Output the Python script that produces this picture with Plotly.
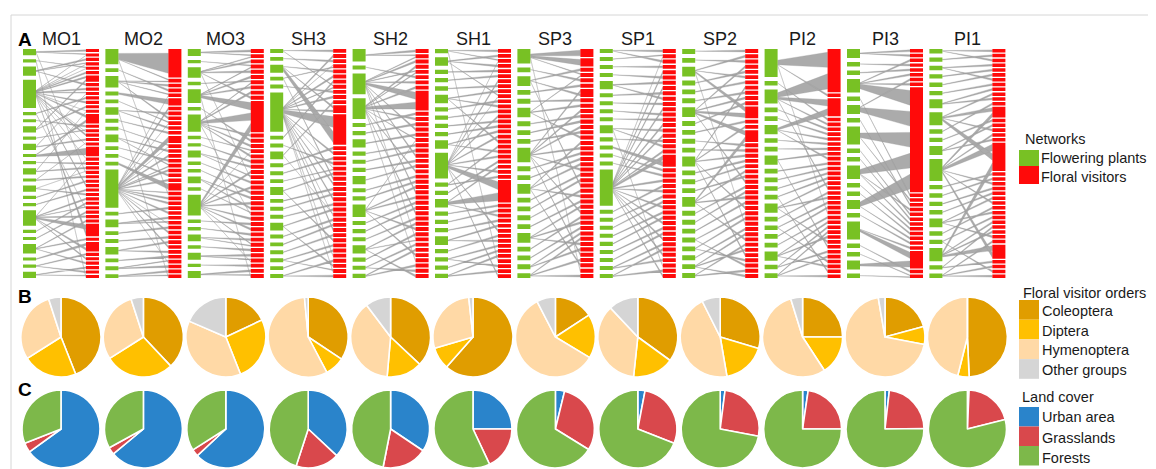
import plotly.graph_objects as go

# ---------------- data ----------------
SITES = ["MO1", "MO2", "MO3", "SH3", "SH2", "SH1", "SP3", "SP1", "SP2", "PI2", "PI3", "PI1"]

# Panel B: floral visitor orders (% of visitors)
ORDERS = ["Coleoptera", "Diptera", "Hymenoptera", "Other groups"]
coleoptera = [44, 38, 18, 34.5, 37, 61.5, 15.8, 35, 29.6, 25, 20.8, 49.3]
diptera = [22, 28, 26, 8, 14.4, 9, 17.8, 16.7, 17.7, 15.8, 7.2, 4.6]
hymenoptera = [29, 29, 37.5, 56.5, 38.3, 27.8, 58.8, 36.3, 45.3, 54.4, 69.3, 46.1]
other_groups = [5, 5, 18.5, 1.5, 10.3, 1.7, 7.6, 12, 7.4, 4.8, 2.7, 0]

# Panel C: land cover (%)
COVERS = ["Urban area", "Grasslands", "Forests"]
urban = [65, 64, 63, 37, 34.4, 25, 3.8, 3, 2, 2.3, 1.8, 0.7]
grasslands = [4, 3, 3, 18, 18.7, 18, 30, 28, 26, 22.7, 23, 20.4]
forests = [31, 33, 34, 45, 46.9, 57, 66.2, 69, 72, 75, 75.2, 78.9]

# Panel A: networks. plants = plant node sizes (top->bottom),
# visitors = visitor node sizes, links = for each visitor, linked plant indices
MO1_plants = [2, 1, 3, 9, 1, 1, 2, 1, 2, 1, 1, 2, 1, 2, 1, 1, 5, 1, 1, 3, 1, 1, 2]
MO1_visitors = [1, 1, 1, 1, 1, 1, 2, 1, 1, 1, 1, 1, 1, 1, 3, 1, 1, 1, 1, 1, 3, 1, 1, 1, 1, 1, 1, 1, 1, 1, 1, 1, 1, 1, 1, 1, 4, 1, 3, 1, 1, 1, 1, 1, 1]
MO1_links = [[0], [0, 3], [2], [2, 3], [1, 3], [3], [3, 6], [2], [3], [3, 8], [4], [3], [6], [3, 11], [3, 9], [5], [7, 3], [3], [8], [12, 3], [9], [3, 16], [10], [11], [13, 0], [12], [14], [3], [15], [13], [16], [17], [16, 4], [18], [16], [19], [16, 3], [19], [20, 16], [21], [16], [19], [22], [21], [22, 1]]

MO2_plants = [4, 1, 3, 1, 1, 2, 1, 1, 2, 1, 1, 1, 10, 1, 2, 1, 1, 2, 1, 1, 1]
MO2_visitors = [8, 1, 1, 1, 1, 2, 1, 1, 1, 1, 1, 1, 2, 1, 1, 1, 1, 1, 1, 1, 1, 2, 1, 1, 1, 1, 1, 1, 1, 1, 1, 1, 1, 1, 1, 1, 1, 1, 1, 1]
MO2_links = [[0], [0, 2], [2], [1], [2, 12], [3], [12], [5], [2], [4, 12], [5], [6], [12], [7, 12], [8], [12], [9], [8, 12], [12], [10], [12], [11], [12, 0], [12], [12], [13], [12], [14], [14, 12], [15], [12], [16], [17], [12], [17], [18], [19, 12], [19], [20], [20, 5]]

MO3_plants = [2, 1, 3, 1, 4, 1, 5, 1, 1, 2, 1, 1, 2, 1, 6, 1, 1, 2, 1, 2, 1, 2]
MO3_visitors = [1, 1, 1, 1, 1, 1, 1, 1, 1, 1, 8, 1, 1, 1, 1, 1, 1, 1, 1, 1, 1, 1, 1, 1, 1, 1, 1, 1, 1, 1, 1, 1, 1, 1, 1, 1, 1, 1, 1]
MO3_links = [[0], [0, 2], [2], [1, 4], [2], [4], [3, 6], [4], [6], [2], [4, 6, 14], [6], [5], [6], [7, 14], [6], [8], [9], [14], [9, 2], [10], [14], [11], [12], [14], [12], [13, 6], [14], [15], [14], [16], [17], [14, 17], [18], [19], [19, 14], [20], [21], [21, 4]]

SH3_plants = [1, 1, 2, 1, 1, 10, 1, 1, 2, 1, 1, 1, 2, 1, 1, 1, 2, 1, 1, 1, 1, 1, 1]
SH3_visitors = [1, 1, 1, 1, 1, 1, 1, 1, 1, 1, 1, 2, 8, 1, 1, 1, 1, 1, 1, 1, 1, 1, 1, 1, 1, 1, 1, 1, 1, 1, 1, 1, 1, 1, 1, 1, 1, 1, 1]
SH3_links = [[0], [5], [1], [5, 3], [2], [5], [6], [0, 5], [4], [5], [8], [2, 5], [5, 2], [9], [5], [10], [7], [5, 11], [12], [3], [5], [13], [14], [5], [15], [16], [8, 5], [17], [18], [5], [19], [12], [20], [21], [5], [22], [16], [20, 5], [22]]

SH2_plants = [3, 1, 5, 5, 1, 1, 2, 1, 1, 1, 2, 1, 1, 3, 1, 1, 1, 2, 1, 1, 1]
SH2_visitors = [1, 1, 1, 1, 1, 1, 1, 1, 5, 1, 1, 1, 1, 1, 1, 1, 1, 1, 1, 1, 1, 1, 1, 1, 1, 1, 1, 1, 1, 1, 1, 1, 1, 1, 1, 1, 1, 1, 1, 1, 1]
SH2_links = [[0], [0, 2], [2], [3], [2, 3], [1], [2], [3], [2, 3], [4], [3], [5], [2], [6], [3, 13], [7], [8], [2], [9], [10], [3], [11], [12], [13], [2], [13], [14], [15], [3], [16], [17], [13], [18], [2, 17], [19], [20], [13], [3], [20], [19], [17]]

SH1_plants = [1, 2, 1, 1, 1, 2, 1, 1, 1, 1, 2, 6, 1, 1, 2, 1, 1, 1, 2, 1, 1, 1, 1]
SH1_visitors = [1, 1, 1, 1, 1, 1, 1, 1, 1, 1, 1, 1, 1, 1, 1, 1, 1, 1, 1, 1, 1, 1, 1, 1, 1, 1, 6, 1, 1, 1, 1, 1, 1, 1, 1, 1, 1, 1, 1, 1, 1, 1]
SH1_links = [[0], [1], [0, 11], [1], [2], [3], [11], [4], [5], [1, 11], [6], [5], [7], [11], [8], [9], [10], [11], [5], [12], [10], [11], [13], [14], [11], [12], [11, 14], [15], [16], [14], [17], [18], [11], [19], [18], [20], [21], [22], [0], [20], [22], [11]]

SP3_plants = [3, 1, 2, 1, 1, 2, 1, 1, 1, 3, 1, 1, 2, 1, 1, 1, 1, 2, 1, 1, 1, 1]
SP3_visitors = [2, 2, 1, 1, 1, 1, 2, 1, 1, 1, 1, 1, 1, 1, 1, 1, 1, 1, 1, 1, 1, 1, 1, 1, 1, 1, 1, 1, 1, 1, 1, 1, 1, 1, 1, 1, 1, 1, 1, 1, 1]
SP3_links = [[0], [0], [2], [0, 5], [1], [3], [9, 2], [4], [5], [9], [6], [7], [9], [8], [5], [12], [9], [10], [11], [12], [9], [13], [14], [2], [15], [12], [16], [17], [9], [18], [17], [19], [20], [21], [17], [20], [9], [21], [12], [0], [21]]

SP1_plants = [1, 1, 1, 1, 2, 1, 1, 1, 1, 2, 1, 1, 1, 1, 9, 1, 1, 1, 1, 1, 1, 1, 1, 1]
SP1_visitors = [1, 1, 1, 1, 1, 1, 1, 1, 1, 1, 1, 1, 1, 1, 1, 1, 1, 1, 1, 1, 3, 1, 1, 1, 1, 1, 1, 1, 1, 1, 1, 1, 1, 1, 1, 1, 1, 1, 1, 1, 1, 1]
SP1_links = [[0], [1, 14], [0], [2], [14], [3], [4], [14], [5], [4], [6], [14], [7], [8], [14], [9], [14], [10], [9], [14], [14, 11], [12], [13], [14], [15], [14], [16], [17], [14], [18], [19], [14], [20], [21], [14], [22], [23], [14], [22], [9], [23], [14]]

SP2_plants = [1, 1, 2, 1, 1, 1, 2, 1, 1, 1, 1, 2, 1, 1, 1, 2, 1, 1, 1, 1, 1, 1, 1, 1]
SP2_visitors = [1, 1, 1, 1, 1, 1, 1, 1, 1, 1, 1, 3, 1, 1, 3, 1, 1, 1, 1, 1, 1, 1, 1, 1, 1, 1, 1, 1, 1, 1, 1, 1, 1, 1, 1, 1, 1, 1, 1, 1, 1]
SP2_links = [[0], [2], [1], [6], [3], [2], [4], [11], [5], [6], [7], [2, 6], [8], [11], [6, 15], [9], [10], [11], [12], [13], [15], [14], [6], [16], [17], [15], [18], [11], [19], [20], [2], [21], [22], [15], [23], [22], [11], [20], [19], [23], [22]]

PI2_plants = [6, 1, 3, 1, 1, 2, 1, 1, 2, 1, 1, 1, 1, 2, 1, 1, 1, 1, 2, 1, 1]
PI2_visitors = [12, 1, 5, 1, 1, 1, 1, 1, 1, 1, 1, 1, 1, 1, 1, 1, 1, 1, 1, 1, 1, 1, 1, 1, 1, 1, 1, 1, 1, 1, 1, 1, 1, 1, 1, 1]
PI2_links = [[0, 2], [0], [2, 5], [1], [2], [3], [4], [5], [6], [7], [8], [5], [9], [10], [11], [12], [13], [2], [14], [13], [15], [16], [0], [17], [18], [19], [20], [18], [13], [8], [19], [20], [15], [18], [12], [20]]

PI3_plants = [2, 1, 1, 3, 1, 2, 1, 4, 1, 1, 3, 1, 1, 2, 1, 4, 1, 1, 2, 1]
PI3_visitors = [1, 1, 1, 1, 1, 1, 1, 1, 30, 1, 1, 1, 1, 1, 1, 1, 1, 1, 1, 1, 1, 5, 1, 1]
PI3_links = [[0], [0], [3], [1], [2], [3], [5], [3], [3, 5, 7, 10, 13], [4], [7], [6], [10], [8], [9], [10], [11], [12], [13], [14], [15], [15, 18], [16], [17, 19]]

PI1_plants = [1, 1, 1, 1, 1, 1, 2, 3, 1, 1, 2, 5, 1, 1, 1, 1, 2, 1, 1, 3, 1, 1]
PI1_visitors = [1, 1, 1, 1, 1, 1, 1, 1, 1, 1, 1, 1, 3, 1, 1, 1, 1, 1, 8, 1, 1, 1, 1, 1, 1, 1, 1, 1, 1, 1, 1, 1, 1, 1, 4, 1, 1, 1, 1]
PI1_links = [[0], [1], [0], [2], [3], [4], [2], [5], [6], [7], [6], [8], [7, 11], [9], [10], [7], [11], [10], [11, 7, 19], [12], [13], [11], [14], [15], [16], [11], [17], [16], [18], [19], [20], [19], [16], [21], [19, 11], [20], [21], [18], [21]]

NETWORKS = {
    "MO1": (MO1_plants, MO1_visitors, MO1_links),
    "MO2": (MO2_plants, MO2_visitors, MO2_links),
    "MO3": (MO3_plants, MO3_visitors, MO3_links),
    "SH3": (SH3_plants, SH3_visitors, SH3_links),
    "SH2": (SH2_plants, SH2_visitors, SH2_links),
    "SH1": (SH1_plants, SH1_visitors, SH1_links),
    "SP3": (SP3_plants, SP3_visitors, SP3_links),
    "SP1": (SP1_plants, SP1_visitors, SP1_links),
    "SP2": (SP2_plants, SP2_visitors, SP2_links),
    "PI2": (PI2_plants, PI2_visitors, PI2_links),
    "PI3": (PI3_plants, PI3_visitors, PI3_links),
    "PI1": (PI1_plants, PI1_visitors, PI1_links),
}

# ---------------- style / layout ----------------
W, H = 1156, 469          # window size
OFF = 8                   # default page margin of the browser body
FW, FH = W - OFF, H - OFF # figure size so that the figure fits in the window
FONT = "Liberation Sans, Arial, sans-serif"
C_PLANT = "#78C124"
C_VISIT = "#FF0A0A"
C_LINK = "rgba(135,135,135,0.70)"
ORDER_COLORS = ["#E09D00", "#FFC000", "#FFD9A6", "#D5D5D5"]
COVER_COLORS = ["#2A84CB", "#D9484C", "#7DB84A"]

STEP = 82.4
GREEN_X0, NODE_W = 23.0, 13.0
RED_X0 = 86.0
Y_TOP, Y_BOT = 49.0, 278.0
PIE_X0 = 61.0
PIE_B_Y, PIE_B_R = 337.0, 40.0
PIE_C_Y, PIE_C_R = 429.0, 39.0


def column(sizes, gap):
    n = len(sizes)
    tot = float(sum(sizes))
    span = Y_BOT - Y_TOP
    unit = (span - gap * (n - 1)) / tot
    if unit < 1.2:
        gap = max(0.6, (span - 1.2 * tot) / max(n - 1, 1))
        unit = (span - gap * (n - 1)) / tot
    out, y = [], Y_TOP
    for s in sizes:
        out.append((y, y + s * unit))
        y += s * unit + gap
    return out


def rects(x0, x1, segs):
    xs, ys = [], []
    for a, b in segs:
        xs += [x0, x1, x1, x0, x0, None]
        ys += [a, a, b, b, a, None]
    return xs, ys


fig = go.Figure()

for i, site in enumerate(SITES):
    plants, visitors, links = NETWORKS[site]
    gx0 = GREEN_X0 + STEP * i
    gx1 = gx0 + NODE_W
    rx0 = RED_X0 + STEP * i
    rx1 = rx0 + NODE_W
    pseg = column(plants, 4.0)
    vseg = column(visitors, 1.3)

    # visitor ends
    link_list = []  # (plant, visitor_a, visitor_b, visitor_index)
    for j, (seg, plist) in enumerate(zip(vseg, links)):
        a, b = seg
        k = len(plist)
        w = (b - a) / k
        for m, p in enumerate(plist):
            if p >= len(pseg):
                continue
            ca = a + m * w
            cb = ca + w
            shrink = 0.15 * w if w > 5 else 0.25 * w
            link_list.append((p, ca + shrink, cb - shrink, j))

    # plant ends: narrow, stacked around the node centre
    per_plant = {}
    for idx, (p, va, vb, j) in enumerate(link_list):
        per_plant.setdefault(p, []).append(idx)
    pend = {}
    for p, idxs in per_plant.items():
        a, b = pseg[p]
        widths = [(link_list[t][2] - link_list[t][1]) * 0.3 for t in idxs]
        tot = sum(widths)
        lim = (b - a) * 0.6
        sc = lim / tot if tot > lim else 1.0
        y = (a + b) / 2 - tot * sc / 2
        for t, wd in zip(idxs, widths):
            pend[t] = (y, y + wd * sc)
            y += wd * sc

    lx, ly = [], []
    for t, (p, va, vb, j) in enumerate(link_list):
        pa, pb = pend[t]
        lx += [gx1, rx0, rx0, gx1, gx1, None]
        ly += [pa, va, vb, pb, pa, None]
    fig.add_trace(go.Scatter(x=lx, y=ly, mode="lines", line=dict(width=0.6, color="rgba(150,150,150,0.5)"),
                             fill="toself", fillcolor=C_LINK, hoverinfo="skip", showlegend=False))
    xs, ys = rects(gx0, gx1, pseg)
    fig.add_trace(go.Scatter(x=xs, y=ys, mode="lines", line=dict(width=0), fill="toself",
                             fillcolor=C_PLANT, hoverinfo="skip", showlegend=False))
    xs, ys = rects(rx0, rx1, vseg)
    fig.add_trace(go.Scatter(x=xs, y=ys, mode="lines", line=dict(width=0), fill="toself",
                             fillcolor=C_VISIT, hoverinfo="skip", showlegend=False))


def dom(cx, cy, r):
    return dict(x=[(cx - r - OFF) / FW, (cx + r - OFF) / FW],
                y=[1 - (cy + r - OFF) / FH, 1 - (cy - r - OFF) / FH])


for i, site in enumerate(SITES):
    cx = PIE_X0 + STEP * i
    fig.add_trace(go.Pie(
        values=[coleoptera[i], diptera[i], hymenoptera[i], other_groups[i]], labels=ORDERS,
        marker=dict(colors=ORDER_COLORS, line=dict(color="white", width=1.6)),
        sort=False, direction="clockwise", rotation=0, textinfo="none",
        hoverinfo="label+percent", showlegend=False, domain=dom(cx, PIE_B_Y, PIE_B_R)))
    fig.add_trace(go.Pie(
        values=[urban[i], grasslands[i], forests[i]], labels=COVERS,
        marker=dict(colors=COVER_COLORS, line=dict(color="white", width=1.6)),
        sort=False, direction="clockwise", rotation=0, textinfo="none",
        hoverinfo="label+percent", showlegend=False, domain=dom(cx, PIE_C_Y, PIE_C_R)))

annotations = []
shapes = []


def txt(x, y, s, size=14.5, anchor="left", bold=False, color="#1a1a1a"):
    annotations.append(dict(x=x, y=y, xref="x", yref="y", text=("<b>%s</b>" % s) if bold else s,
                            showarrow=False, xanchor=anchor, yanchor="middle", borderpad=0,
                            font=dict(family=FONT, size=size, color=color)))


# panel letters & site labels
txt(17, 39, "A", size=19, bold=True, color="#000")
txt(17, 296, "B", size=19, bold=True, color="#000")
txt(17, 389, "C", size=19, bold=True, color="#000")
for i, site in enumerate(SITES):
    txt(61 + STEP * i, 39, site, size=18, anchor="center")


def swatch(y0, y1, color):
    shapes.append(dict(type="rect", xref="x", yref="y", x0=1019, x1=1039, y0=y0, y1=y1,
                       fillcolor=color, line=dict(width=0)))


txt(1024, 139, "Networks")
swatch(150, 166, C_PLANT)
swatch(166, 184, C_VISIT)
txt(1040, 158, "Flowering plants")
txt(1040, 177, "Floral visitors")

txt(1022, 293, "Floral visitor orders")
for k, (lab, col) in enumerate(zip(ORDERS, ORDER_COLORS)):
    swatch(300 + 19.7 * k, 300 + 19.7 * (k + 1), col)
    txt(1041, 311 + 19.7 * k, lab)

txt(1021, 397, "Land cover")
for k, (lab, col) in enumerate(zip(COVERS, COVER_COLORS)):
    swatch(407 + 19.5 * k, 407 + 19.5 * (k + 1), col)
    txt(1041, 417 + 20.5 * k, lab)

# frame lines
shapes.append(dict(type="line", xref="x", yref="y", x0=11, x1=W, y0=15, y1=15,
                   line=dict(color="#d6d6d6", width=1)))
shapes.append(dict(type="line", xref="x", yref="y", x0=11, x1=11, y0=15, y1=H,
                   line=dict(color="#d6d6d6", width=1)))

fig.update_layout(
    width=FW, height=FH, margin=dict(l=0, r=0, t=0, b=0),
    paper_bgcolor="white", plot_bgcolor="white",
    xaxis=dict(range=[OFF, W], visible=False, fixedrange=True),
    yaxis=dict(range=[H, OFF], visible=False, fixedrange=True),
    annotations=annotations, shapes=shapes, showlegend=False,
)

fig.write_html("out.html")
